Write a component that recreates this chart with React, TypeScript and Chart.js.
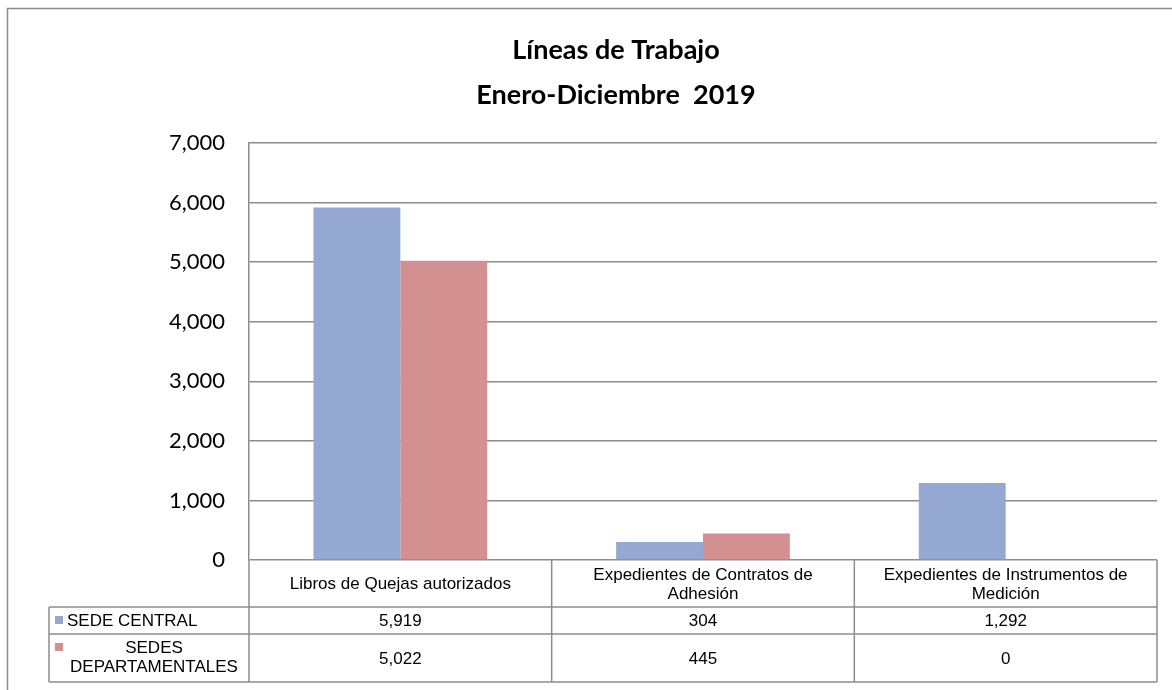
import React, { useEffect, useRef } from "react";
import { Chart, registerables } from "chart.js";

Chart.register(...registerables);

const titleLines = ["Líneas de Trabajo", "Enero-Diciembre  2019"];
const categories: (string | string[])[] = [
  "Libros de Quejas autorizados",
  ["Expedientes de Contratos de", "Adhesión"],
  ["Expedientes de Instrumentos de", "Medición"],
];
const seriesNames = ["SEDE CENTRAL", "SEDES DEPARTAMENTALES"];
const sedeCentral = [5919, 304, 1292];
const sedesDepartamentales = [5022, 445, 0];
const seriesColors = ["#95A8D1", "#D29090"];
const yMin = 0;
const yMax = 7000;
const yStep = 1000;

const GRID = "#8C8C8C";
const TABLE_FONT = "17px 'Liberation Sans', Arial, sans-serif";

const fmt = (v: number) => v.toLocaleString("en-US");

const framePlugin = {
  id: "frameAndTitle",
  beforeDraw(chart: any) {
    const { ctx } = chart;
    ctx.save();
    ctx.fillStyle = "#fff";
    ctx.fillRect(0, 0, chart.width, chart.height);
    ctx.strokeStyle = GRID;
    ctx.lineWidth = 1.5;
    ctx.beginPath();
    ctx.moveTo(7.5, chart.height + 5);
    ctx.lineTo(7.5, 8.5);
    ctx.lineTo(chart.width + 5, 8.5);
    ctx.stroke();
    ctx.fillStyle = "#000";
    ctx.font = "bold 27px Lato, 'Open Sans', sans-serif";
    ctx.textAlign = "center";
    ctx.textBaseline = "alphabetic";
    ctx.fillText(titleLines[0], 616, 59);
    ctx.fillText(titleLines[1], 616, 104);
    ctx.restore();
  },
};

const tablePlugin = {
  id: "dataTable",
  afterDraw(chart: any) {
    const { ctx, chartArea, scales } = chart;
    const xs = scales.x;
    const n = categories.length;
    const catW = (chartArea.right - chartArea.left) / n;
    const top = chartArea.bottom;
    const r1 = top + 47;
    const r2 = r1 + 27;
    const r3 = r2 + 48;
    const labelLeft = chartArea.left - 200;
    const right = chartArea.right;
    const line = (x1: number, y1: number, x2: number, y2: number) => {
      ctx.beginPath();
      ctx.moveTo(x1, y1);
      ctx.lineTo(x2, y2);
      ctx.stroke();
    };
    ctx.save();
    ctx.strokeStyle = GRID;
    ctx.lineWidth = 1.5;
    line(labelLeft, r1, right, r1);
    line(labelLeft, r2, right, r2);
    line(labelLeft, r3, right, r3);
    line(labelLeft, r1, labelLeft, r3);
    for (let i = 0; i <= n; i++) {
      const xb = i < n ? xs.getPixelForValue(i) - catW / 2 : xs.getPixelForValue(n - 1) + catW / 2;
      line(xb, top, xb, r3);
    }

    ctx.fillStyle = "#000";
    ctx.font = TABLE_FONT;
    ctx.textAlign = "center";
    ctx.textBaseline = "middle";
    const lh = 19;
    const rowsData = [sedeCentral, sedesDepartamentales];
    for (let i = 0; i < n; i++) {
      const cx = xs.getPixelForValue(i);
      const lab = categories[i];
      const lines = Array.isArray(lab) ? lab : [lab];
      const cy = (top + r1) / 2 + 1;
      lines.forEach((t, k) => {
        ctx.fillText(t, cx, cy + (k - (lines.length - 1) / 2) * lh);
      });
      ctx.fillText(fmt(rowsData[0][i]), cx, (r1 + r2) / 2 + 1);
      ctx.fillText(fmt(rowsData[1][i]), cx, (r2 + r3) / 2 + 1);
    }

    // series labels with legend keys
    const rowTops = [r1, r2];
    const rowBots = [r2, r3];
    seriesNames.forEach((name, s) => {
      const keyX = labelLeft + 6;
      const textW = ctx.measureText(name).width;
      const maxW = chartArea.left - keyX - 20;
      ctx.fillStyle = seriesColors[s];
      if (textW <= maxW) {
        const cy = (rowTops[s] + rowBots[s]) / 2;
        ctx.fillRect(keyX, cy - 4.5, 8, 8);
        ctx.fillStyle = "#000";
        ctx.textAlign = "left";
        ctx.fillText(name, keyX + 12, cy + 1);
      } else {
        const parts = name.split(" ");
        const cy = (rowTops[s] + rowBots[s]) / 2;
        ctx.fillRect(keyX, cy - 15, 8, 8);
        ctx.fillStyle = "#000";
        ctx.textAlign = "center";
        const cx = (keyX + 12 + chartArea.left - 8) / 2;
        parts.forEach((t, k) => {
          ctx.fillText(t, cx, cy + (k - (parts.length - 1) / 2) * lh);
        });
      }
    });
    ctx.restore();
  },
};

export default function App() {
  const ref = useRef<HTMLCanvasElement | null>(null);
  useEffect(() => {
    if (!ref.current) return;
    const chart = new Chart(ref.current, {
      type: "bar",
      data: {
        labels: categories as any,
        datasets: [
          {
            label: seriesNames[0],
            data: sedeCentral,
            backgroundColor: seriesColors[0],
            barPercentage: 1,
            categoryPercentage: 0.574,
          },
          {
            label: seriesNames[1],
            data: sedesDepartamentales,
            backgroundColor: seriesColors[1],
            barPercentage: 1,
            categoryPercentage: 0.574,
          },
        ],
      },
      options: {
        responsive: false,
        animation: false,
        layout: { padding: { top: 143, bottom: 130, left: 0, right: 15 } },
        plugins: {
          legend: { display: false },
          title: { display: false },
          tooltip: { enabled: false },
        },
        scales: {
          x: { display: false },
          y: {
            min: yMin,
            max: yMax,
            afterFit: (scale: any) => {
              scale.width = 249;
            },
            ticks: {
              stepSize: yStep,
              padding: 24,
              color: "#000",
              font: { family: "Lato, 'Open Sans', sans-serif", size: 22 },
              callback: (v: any) => fmt(Number(v)),
            },
            grid: { color: GRID, lineWidth: 1.5, drawTicks: false },
            border: { display: true, color: GRID, width: 1.5 },
          },
        },
      },
      plugins: [framePlugin, tablePlugin],
    });
    return () => chart.destroy();
  }, []);
  return (
    <div style={{ position: "fixed", left: 0, top: 0, width: 1172, height: 690, background: "#fff" }}>
      <canvas ref={ref} width={1172} height={690} style={{ display: "block" }} />
    </div>
  );
}
